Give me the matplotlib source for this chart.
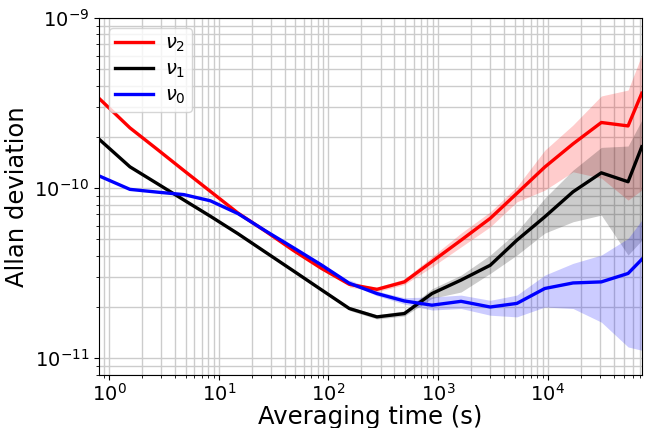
import numpy as np
import matplotlib
matplotlib.use("Agg")
import matplotlib.pyplot as plt

# averaging times (s)
taus = [0.81, 1.55, 2.75, 4.8, 8.4, 15, 27, 48, 86, 155, 277, 493, 880,
        1620, 2990, 5230, 9400, 17000, 30800, 54000, 72000]

# Allan deviation for each frequency
nu2 = [3.37e-10, 2.26e-10, 1.69e-10, 1.27e-10, 9.56e-11, 7.13e-11, 5.55e-11,
       4.30e-11, 3.38e-11, 2.72e-11, 2.54e-11, 2.81e-11, 3.70e-11, 4.94e-11,
       6.64e-11, 9.31e-11, 1.33e-10, 1.82e-10, 2.43e-10, 2.32e-10, 3.61e-10]
nu1 = [1.94e-10, 1.334e-10, 1.063e-10, 8.52e-11, 6.83e-11, 5.39e-11, 4.18e-11,
       3.26e-11, 2.53e-11, 1.96e-11, 1.75e-11, 1.83e-11, 2.40e-11, 2.88e-11,
       3.52e-11, 4.94e-11, 6.78e-11, 9.51e-11, 1.23e-10, 1.09e-10, 1.75e-10]
nu0 = [1.18e-10, 9.83e-11, 9.47e-11, 9.16e-11, 8.42e-11, 7.08e-11, 5.58e-11,
       4.46e-11, 3.54e-11, 2.76e-11, 2.40e-11, 2.17e-11, 2.05e-11, 2.16e-11,
       2.00e-11, 2.10e-11, 2.57e-11, 2.77e-11, 2.81e-11, 3.15e-11, 3.81e-11]

# confidence bands, from tau = 155 s onwards
band_start = 9
nu2_lo = [2.62e-11, 2.46e-11, 2.71e-11, 3.44e-11, 4.51e-11, 5.92e-11,
          8.30e-11, 9.73e-11, 1.247e-10, 1.145e-10, 8.50e-11, 9.73e-11]
nu2_hi = [2.76e-11, 2.62e-11, 2.92e-11, 3.95e-11, 5.44e-11, 7.25e-11,
          1.018e-10, 1.67e-10, 2.35e-10, 3.48e-10, 3.77e-10, 6.06e-10]
nu1_lo = [1.91e-11, 1.70e-11, 1.77e-11, 2.25e-11, 2.45e-11, 3.15e-11,
          4.04e-11, 5.44e-11, 6.34e-11, 6.94e-11, 4.04e-11, 4.94e-11]
nu1_hi = [2.01e-11, 1.80e-11, 1.90e-11, 2.56e-11, 3.08e-11, 4.04e-11,
          5.53e-11, 8.73e-11, 1.276e-10, 1.735e-10, 1.767e-10, 2.51e-10]
nu0_lo = [2.74e-11, 2.33e-11, 2.08e-11, 1.92e-11, 1.96e-11, 1.79e-11,
          1.75e-11, 2.00e-11, 1.96e-11, 1.63e-11, 1.165e-11, 1.114e-11]
nu0_hi = [2.89e-11, 2.48e-11, 2.27e-11, 2.29e-11, 2.35e-11, 2.19e-11,
          2.35e-11, 3.08e-11, 3.61e-11, 4.04e-11, 5.06e-11, 6.48e-11]

series = [
    (r"$\nu_2$", "red", nu2, nu2_lo, nu2_hi),
    (r"$\nu_1$", "black", nu1, nu1_lo, nu1_hi),
    (r"$\nu_0$", "blue", nu0, nu0_lo, nu0_hi),
]

fig, ax = plt.subplots(figsize=(6.45, 4.28), dpi=100)
fig.subplots_adjust(left=0.1535, right=0.995, top=0.958, bottom=0.1245)

t = np.array(taus)
for label, color, vals, lo, hi in series:
    ax.plot(t, vals, color=color, lw=2.4, label=label)
    ax.fill_between(t[band_start:], lo, hi, color=color, alpha=0.2, lw=0)

ax.set_xscale("log")
ax.set_yscale("log")
ax.set_xlim(0.81, 72000)
ax.set_ylim(8e-12, 1e-9)

ax.grid(True, which="both", color="#cccccc", lw=1.0)
ax.set_axisbelow(True)
ax.tick_params(labelsize=14)
ax.tick_params(axis="x", pad=2.5)

ax.set_xlabel("Averaging time (s)", fontsize=17.5, labelpad=0)
ax.set_ylabel("Allan deviation", fontsize=17.5)

ax.legend(loc="upper left", fontsize=14, borderpad=0.3, labelspacing=0.3,
          handletextpad=0.6)

fig.savefig("out.png", dpi=100)
